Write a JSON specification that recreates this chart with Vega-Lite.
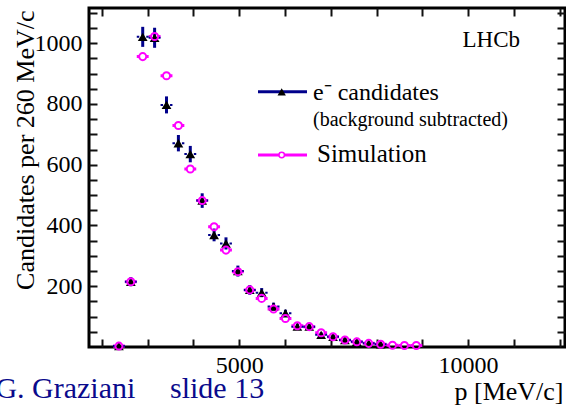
{
  "$schema": "https://vega.github.io/schema/vega-lite/v6.json",
  "width": 476,
  "height": 339,
  "autosize": {"type": "none"},
  "padding": {"left": 89, "top": 8, "right": 1, "bottom": 59},
  "background": "white",
  "config": {
    "font": "Liberation Serif",
    "view": {"stroke": "black", "strokeWidth": 3},
    "axis": {
      "domain": false, "grid": false,
      "labelFont": "Liberation Serif", "labelFontSize": 24, "labelColor": "black",
      "titleFont": "Liberation Serif", "titleColor": "black", "titleFontWeight": "normal",
      "labelOverlap": false, "labelFlush": false
    }
  },
  "data": {
    "values": [
      {"p": 2370, "lo": 2240, "hi": 2500, "n": 3, "err": 3, "sim": 3},
      {"p": 2630, "lo": 2500, "hi": 2760, "n": 215, "err": 15, "sim": 215},
      {"p": 2890, "lo": 2760, "hi": 3020, "n": 1021, "err": 33, "sim": 956},
      {"p": 3150, "lo": 3020, "hi": 3280, "n": 1018, "err": 33, "sim": 1022},
      {"p": 3410, "lo": 3280, "hi": 3540, "n": 797, "err": 28, "sim": 893},
      {"p": 3670, "lo": 3540, "hi": 3800, "n": 671, "err": 27, "sim": 729},
      {"p": 3930, "lo": 3800, "hi": 4060, "n": 635, "err": 27, "sim": 586},
      {"p": 4190, "lo": 4060, "hi": 4320, "n": 482, "err": 24, "sim": 482},
      {"p": 4450, "lo": 4320, "hi": 4580, "n": 369, "err": 21, "sim": 396},
      {"p": 4710, "lo": 4580, "hi": 4840, "n": 341, "err": 20, "sim": 319},
      {"p": 4970, "lo": 4840, "hi": 5100, "n": 250, "err": 18, "sim": 248},
      {"p": 5230, "lo": 5100, "hi": 5360, "n": 188, "err": 16, "sim": 188},
      {"p": 5490, "lo": 5360, "hi": 5620, "n": 179, "err": 15, "sim": 160},
      {"p": 5750, "lo": 5620, "hi": 5880, "n": 133, "err": 13, "sim": 125},
      {"p": 6010, "lo": 5880, "hi": 6140, "n": 111, "err": 12, "sim": 94},
      {"p": 6270, "lo": 6140, "hi": 6400, "n": 67, "err": 10, "sim": 70},
      {"p": 6530, "lo": 6400, "hi": 6660, "n": 67, "err": 10, "sim": 67},
      {"p": 6790, "lo": 6660, "hi": 6920, "n": 40, "err": 8, "sim": 47},
      {"p": 7050, "lo": 6920, "hi": 7180, "n": 34, "err": 7, "sim": 34},
      {"p": 7310, "lo": 7180, "hi": 7440, "n": 23, "err": 6, "sim": 23},
      {"p": 7570, "lo": 7440, "hi": 7700, "n": 17, "err": 5, "sim": 17},
      {"p": 7830, "lo": 7700, "hi": 7960, "n": 12, "err": 4, "sim": 12},
      {"p": 8090, "lo": 7960, "hi": 8220, "n": 9, "err": 4, "sim": 9},
      {"p": 8350, "lo": 8220, "hi": 8480, "n": null, "err": null, "sim": 6},
      {"p": 8610, "lo": 8480, "hi": 8740, "n": null, "err": null, "sim": 5},
      {"p": 8870, "lo": 8740, "hi": 9000, "n": null, "err": null, "sim": 5}
    ]
  },
  "resolve": {"axis": {"x": "independent", "y": "independent"}},
  "layer": [
    {
      "transform": [{"filter": "datum.p === 2370"}],
      "mark": {"type": "rule", "color": "#00008b", "strokeWidth": 3},
      "encoding": {
        "x": {"datum": 5410, "type": "quantitative", "axis": null},
        "x2": {"datum": 6481},
        "y": {"datum": 840, "type": "quantitative", "axis": null}
      }
    },
    {
      "transform": [{"filter": "datum.p === 2370"}],
      "mark": {"type": "point", "shape": "triangle-up", "filled": true, "color": "black", "size": 70, "opacity": 1},
      "encoding": {
        "x": {"datum": 5928, "type": "quantitative", "axis": null},
        "y": {"datum": 840, "type": "quantitative", "axis": null}
      }
    },
    {
      "transform": [{"filter": "datum.p === 2370"}],
      "mark": {"type": "rule", "color": "#ff00ff", "strokeWidth": 3},
      "encoding": {
        "x": {"datum": 5410, "type": "quantitative", "axis": null},
        "x2": {"datum": 6481},
        "y": {"datum": 632, "type": "quantitative", "axis": null}
      }
    },
    {
      "transform": [{"filter": "datum.p === 2370"}],
      "mark": {"type": "point", "shape": "circle", "filled": true, "fill": "white", "stroke": "#ff00ff", "strokeWidth": 1.5, "size": 30, "opacity": 1},
      "encoding": {
        "x": {"datum": 5928, "type": "quantitative", "axis": null},
        "y": {"datum": 632, "type": "quantitative", "axis": null}
      }
    },
    {
      "transform": [{"filter": "datum.p === 2370"}],
      "mark": {"type": "text", "align": "left", "baseline": "alphabetic", "fontSize": 24, "font": "Liberation Serif", "color": "black"},
      "encoding": {
        "x": {"datum": 6612, "type": "quantitative", "axis": null},
        "y": {"datum": 813, "type": "quantitative", "axis": null},
        "text": {"value": "e⁻ candidates"}
      }
    },
    {
      "transform": [{"filter": "datum.p === 2370"}],
      "mark": {"type": "text", "align": "left", "baseline": "alphabetic", "fontSize": 20, "font": "Liberation Serif", "color": "black"},
      "encoding": {
        "x": {"datum": 6612, "type": "quantitative", "axis": null},
        "y": {"datum": 728, "type": "quantitative", "axis": null},
        "text": {"value": "(background subtracted)"}
      }
    },
    {
      "transform": [{"filter": "datum.p === 2370"}],
      "mark": {"type": "text", "align": "left", "baseline": "alphabetic", "fontSize": 25, "font": "Liberation Serif", "color": "black"},
      "encoding": {
        "x": {"datum": 6699, "type": "quantitative", "axis": null},
        "y": {"datum": 610, "type": "quantitative", "axis": null},
        "text": {"value": "Simulation"}
      }
    },
    {
      "transform": [{"filter": "datum.p === 2370"}],
      "mark": {"type": "text", "align": "right", "baseline": "alphabetic", "fontSize": 23, "font": "Liberation Serif", "color": "black"},
      "encoding": {
        "x": {"datum": 11137, "type": "quantitative", "axis": null},
        "y": {"datum": 988, "type": "quantitative", "axis": null},
        "text": {"value": "LHCb"}
      }
    },
    {
      "transform": [{"filter": "datum.p === 2370"}],
      "mark": {"type": "text", "align": "left", "baseline": "alphabetic", "fontSize": 30, "font": "Liberation Serif", "color": "#0a0a8c", "clip": false},
      "encoding": {
        "x": {"datum": -330, "type": "quantitative", "axis": null},
        "y": {"datum": -168, "type": "quantitative", "axis": null},
        "text": {"value": "G. Graziani"}
      }
    },
    {
      "transform": [{"filter": "datum.p === 2370"}],
      "mark": {"type": "text", "align": "left", "baseline": "alphabetic", "fontSize": 30, "font": "Liberation Serif", "color": "#0a0a8c", "clip": false},
      "encoding": {
        "x": {"datum": 3486, "type": "quantitative", "axis": null},
        "y": {"datum": -168, "type": "quantitative", "axis": null},
        "text": {"value": "slide 13"}
      }
    },
    {
      "mark": {"type": "errorbar", "ticks": false, "rule": {"strokeWidth": 3, "color": "#00008b"}},
      "encoding": {
        "x": {"field": "p", "type": "quantitative", "axis": null},
        "y": {"field": "n", "type": "quantitative", "axis": null},
        "yError": {"field": "err"}
      }
    },
    {
      "mark": {"type": "rule", "color": "#ff00ff", "strokeWidth": 3, "strokeDash": [2.5, 7, 2.5]},
      "encoding": {
        "x": {"field": "lo", "type": "quantitative", "axis": null},
        "x2": {"field": "hi"},
        "y": {"field": "sim", "type": "quantitative", "axis": null}
      }
    },
    {
      "mark": {"type": "rule", "color": "#00008b", "strokeWidth": 2, "strokeDash": [2.5, 7, 2.5]},
      "encoding": {
        "x": {
          "field": "lo", "type": "quantitative",
          "scale": {"domain": [1716, 12120], "nice": false, "zero": false},
          "axis": {
            "orient": "bottom",
            "values": [2000, 3000, 4000, 5000, 6000, 7000, 8000, 9000, 10000, 11000, 12000],
            "format": "d",
            "labelExpr": "datum.value === 5000 || datum.value === 10000 ? datum.label : ''",
            "ticks": true, "tickSize": 8, "tickColor": "#111111", "tickWidth": 2, "offset": -8,
            "labelPadding": 6,
            "title": "p [MeV/c]",
            "titleFontSize": 26,
            "titleX": 474, "titleY": 60,
            "titleAlign": "right", "titleBaseline": "alphabetic", "titleAngle": 0
          }
        },
        "x2": {"field": "hi"},
        "y": {
          "field": "n", "type": "quantitative",
          "scale": {"domain": [0, 1116], "nice": false, "zero": false},
          "axis": {
            "orient": "left",
            "values": [50, 100, 150, 200, 250, 300, 350, 400, 450, 500, 550, 600, 650, 700, 750, 800, 850, 900, 950, 1000, 1050, 1100],
            "format": "d",
            "labelExpr": "datum.value % 200 === 0 ? datum.label : ''",
            "ticks": true, "tickSize": 8, "tickColor": "#111111", "tickWidth": 2, "offset": -8,
            "labelPadding": 7,
            "title": "Candidates per 260 MeV/c",
            "titleFontSize": 26,
            "titleX": -64, "titleY": 2,
            "titleAlign": "right", "titleBaseline": "alphabetic", "titleAngle": 270
          }
        }
      }
    },
    {
      "mark": {"type": "point", "shape": "triangle-up", "filled": true, "color": "black", "size": 95, "opacity": 1},
      "encoding": {
        "x": {
          "field": "p", "type": "quantitative",
          "axis": {
            "orient": "top", "labels": false, "title": null, "ticks": true, "tickColor": "#111111", "tickWidth": 2, "tickSize": 8, "offset": -8,
            "values": [2000, 3000, 4000, 5000, 6000, 7000, 8000, 9000, 10000, 11000, 12000]
          }
        },
        "y": {
          "field": "n", "type": "quantitative",
          "axis": {
            "orient": "right", "labels": false, "title": null, "ticks": true, "tickColor": "#111111", "tickWidth": 2, "tickSize": 8, "offset": -8,
            "values": [50, 100, 150, 200, 250, 300, 350, 400, 450, 500, 550, 600, 650, 700, 750, 800, 850, 900, 950, 1000, 1050, 1100]
          }
        }
      }
    },
    {
      "mark": {"type": "point", "shape": "circle", "filled": false, "color": "#ff00ff", "strokeWidth": 2, "size": 50, "opacity": 1},
      "encoding": {
        "x": {"field": "p", "type": "quantitative", "axis": null},
        "y": {"field": "sim", "type": "quantitative", "axis": null}
      }
    }
  ]
}
